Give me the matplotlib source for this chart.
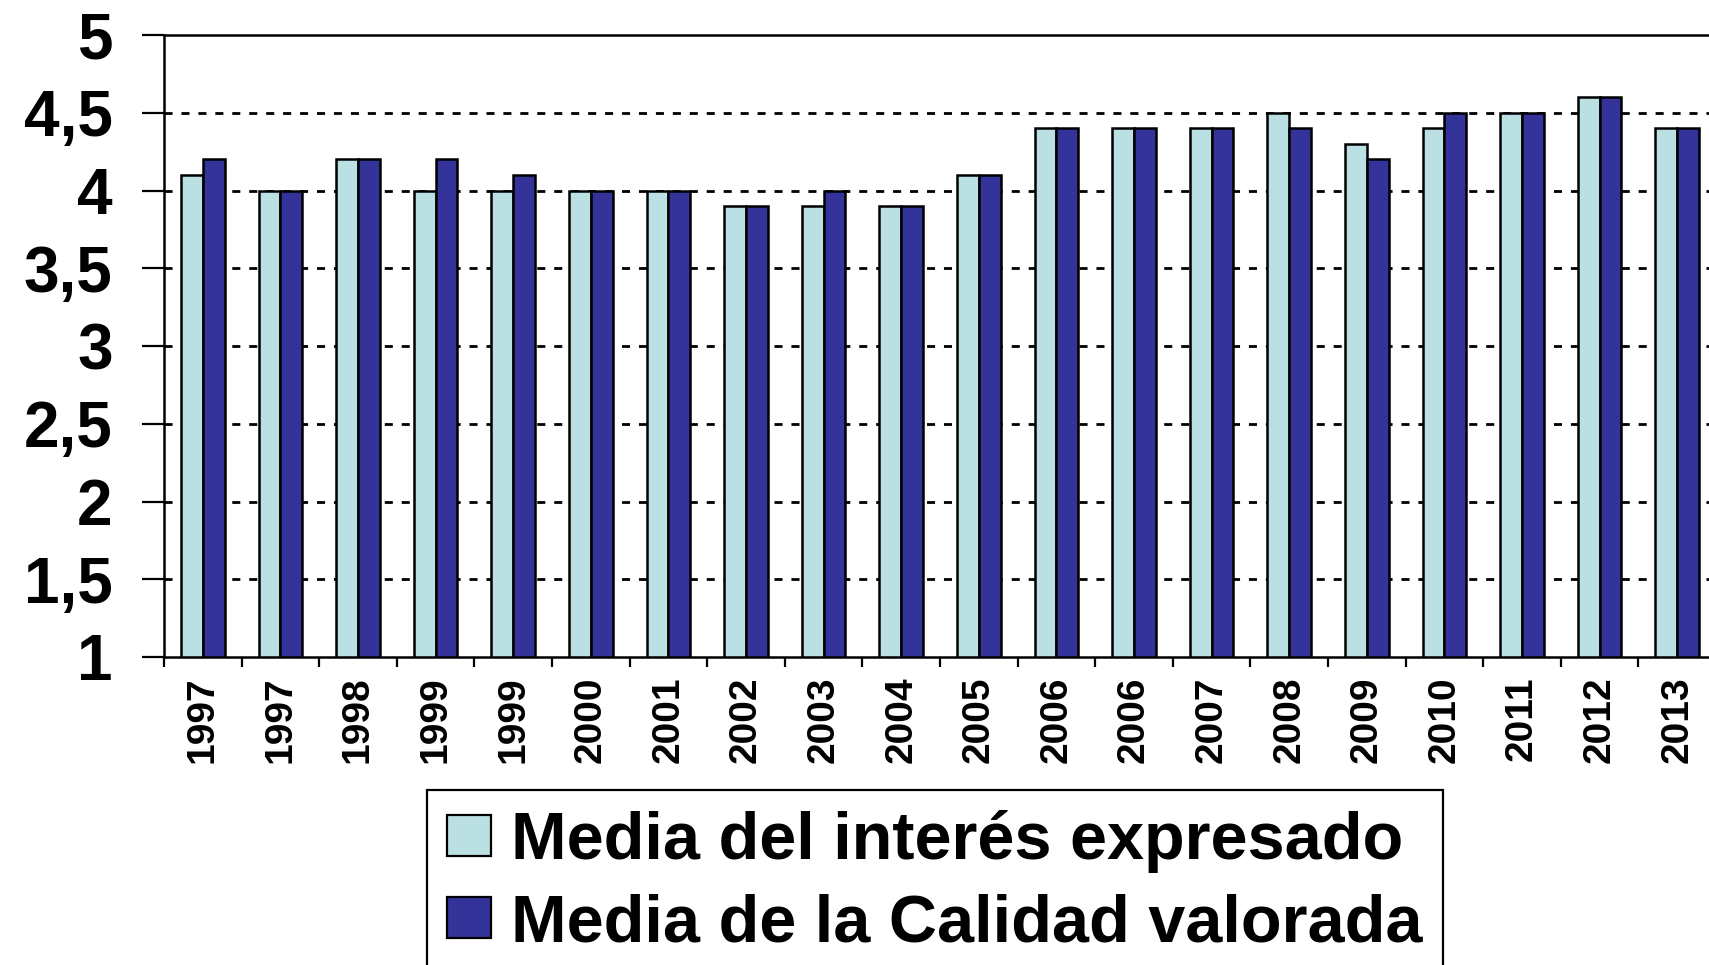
import matplotlib
matplotlib.use('Agg')
import matplotlib.pyplot as plt
import numpy as np
from matplotlib.patches import Patch

# Data
years = ['1997', '1997', '1998', '1999', '1999', '2000', '2001', '2002', '2003', '2004',
         '2005', '2006', '2006', '2007', '2008', '2009', '2010', '2011', '2012', '2013']
interes = [4.1, 4.0, 4.2, 4.0, 4.0, 4.0, 4.0, 3.9, 3.9, 3.9,
           4.1, 4.4, 4.4, 4.4, 4.5, 4.3, 4.4, 4.5, 4.6, 4.4]
calidad = [4.2, 4.0, 4.2, 4.2, 4.1, 4.0, 4.0, 3.9, 4.0, 3.9,
           4.1, 4.4, 4.4, 4.4, 4.4, 4.2, 4.5, 4.5, 4.6, 4.4]
yticks = [1, 1.5, 2, 2.5, 3, 3.5, 4, 4.5, 5]
ytick_labels = ['1', '1,5', '2', '2,5', '3', '3,5', '4', '4,5', '5']
series_names = ['Media del interés expresado', 'Media de la Calidad valorada']

light = '#BBE0E3'
dark = '#333399'
font = 'Liberation Sans'

W, H = 1709, 965
fig = plt.figure(figsize=(W / 100, H / 100), dpi=100)
ax = fig.add_axes([164 / W, 1 - 657 / H, 1552 / W, (657 - 35) / H])

x = np.arange(len(years))
bw = 0.28
ax.bar(x - bw / 2, np.array(interes) - 1, bw, bottom=1, color=light, edgecolor='black', linewidth=1.8, zorder=3)
ax.bar(x + bw / 2, np.array(calidad) - 1, bw, bottom=1, color=dark, edgecolor='black', linewidth=1.8, zorder=3)

ax.set_xlim(-0.5, len(years) - 0.5)
ax.set_ylim(1, 5)

# dotted grid
for v in yticks[1:-1]:
    ax.axhline(v, color='black', lw=2, ls=(0, (2.9, 3.2)), zorder=1)

ax.spines['right'].set_visible(False)
for s in ['left', 'bottom', 'top']:
    ax.spines[s].set_linewidth(1.8)

ax.set_yticks(yticks)
ax.set_yticklabels(ytick_labels, fontsize=46, fontweight='bold', fontfamily=font)
ax.tick_params(axis='y', length=16, width=1.6, pad=21)

ax.set_xticks(x)
ax.set_xticklabels(years, rotation=90, fontsize=28, fontweight='bold', fontfamily=font)
ax.tick_params(axis='x', which='major', length=0, pad=14)
ax.set_xticks(x - 0.5, minor=True)
ax.tick_params(axis='x', which='minor', length=7, width=1.6)

handles = [Patch(facecolor=light, edgecolor='black', linewidth=1.6),
           Patch(facecolor=dark, edgecolor='black', linewidth=1.6)]
leg = fig.legend(handles, series_names, loc='upper left',
                 bbox_to_anchor=(427 / W, 1 - 790 / H), bbox_transform=fig.transFigure,
                 prop={'family': font, 'weight': 'bold', 'size': 48},
                 frameon=True, fancybox=False, edgecolor='black', framealpha=1,
                 borderpad=0.3, handlelength=0.66, handleheight=0.57,
                 handletextpad=0.3, labelspacing=0.3, borderaxespad=0)
leg.get_frame().set_linewidth(1.6)

fig.savefig('out.png', dpi=100)
